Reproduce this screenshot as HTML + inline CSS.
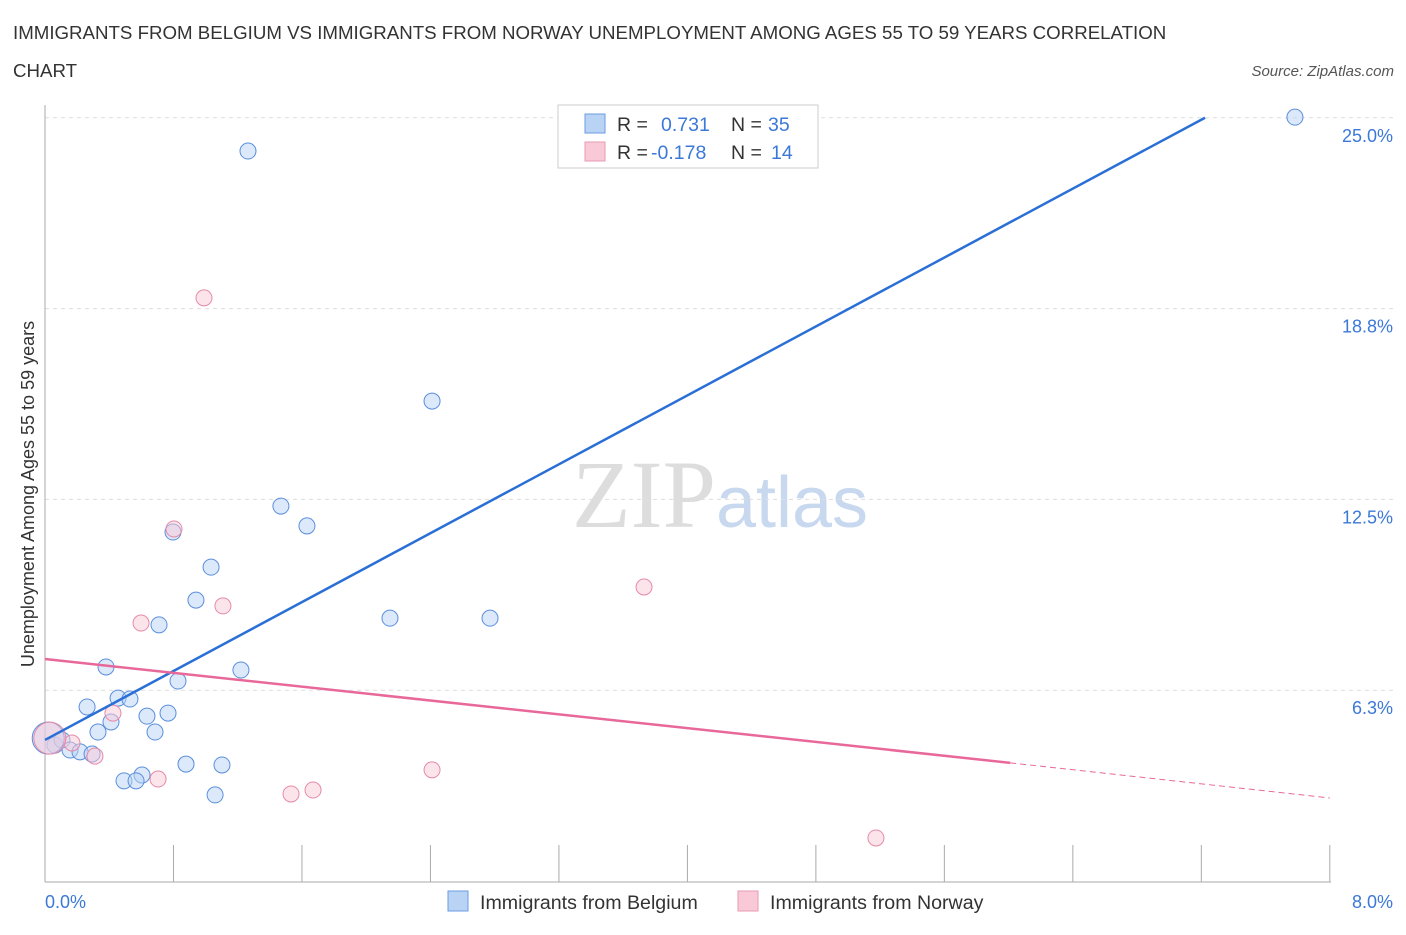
<!DOCTYPE html>
<html><head><meta charset="utf-8"><style>
body{margin:0;background:#fff;font-family:"Liberation Sans",sans-serif;}
</style></head><body>
<svg id="chart" width="1406" height="930" xmlns="http://www.w3.org/2000/svg" font-family="Liberation Sans, sans-serif">
<text x="13" y="39" font-size="18.7" fill="#333">IMMIGRANTS FROM BELGIUM VS IMMIGRANTS FROM NORWAY UNEMPLOYMENT AMONG AGES 55 TO 59 YEARS CORRELATION</text>
<text x="13" y="77" font-size="18.7" fill="#333">CHART</text>
<text x="1394" y="76" font-size="15" fill="#555" font-style="italic" text-anchor="end">Source: ZipAtlas.com</text>
<text x="720" y="527" font-size="96" text-anchor="middle" fill="#ddd" font-family="Liberation Serif, serif">ZIP<tspan fill="#c8d8ee" font-family="Liberation Sans, sans-serif" font-size="72">atlas</tspan></text>
<g id="grid"></g>
<g id="axes"></g>
<g id="marks"></g>
<text transform="translate(34,494) rotate(-90)" font-size="18" fill="#333" text-anchor="middle">Unemployment Among Ages 55 to 59 years</text>
<text x="45" y="908" font-size="18" fill="#3b78d8">0.0%</text>
<text x="1393" y="908" font-size="18" fill="#3b78d8" text-anchor="end">8.0%</text>
<g font-size="19.5">
<rect x="558" y="105" width="260" height="63" fill="#fff" stroke="#ccc"/>
<rect x="585" y="114" width="20" height="19" fill="#b9d3f5" stroke="#6a9be0"/>
<rect x="585" y="142" width="20" height="19" fill="#f9c9d8" stroke="#e89ab2"/>
<text x="617" y="131" fill="#333">R =</text>
<text x="661" y="131" fill="#3b78d8">0.731</text>
<text x="731" y="131" fill="#333">N =</text>
<text x="768" y="131" fill="#3b78d8">35</text>
<text x="617" y="159" fill="#333">R =</text>
<text x="651" y="159" fill="#3b78d8">-0.178</text>
<text x="731" y="159" fill="#333">N =</text>
<text x="771" y="159" fill="#3b78d8">14</text>
</g>
<g>
<rect x="448" y="891" width="20" height="20" fill="#b9d3f5" stroke="#6a9be0"/>
<text x="480" y="909" font-size="19.6" fill="#333">Immigrants from Belgium</text>
<rect x="738" y="891" width="20" height="20" fill="#f9c9d8" stroke="#e89ab2"/>
<text x="770" y="909" font-size="19.6" fill="#333">Immigrants from Norway</text>
</g>
</svg>
<script>
const yTicks=[6.25,12.5,18.75,25];
const yTickLabels=["6.3%","12.5%","18.8%","25.0%"];
const belgiumX=[1.264,7.783,2.410,1.469,1.631,0.797,1.034,0.940,0.710,2.148,2.771,0.380,1.220,0.828,0.455,0.529,0.262,0.766,0.635,0.411,0.685,0.330,0.062,0.106,0.156,0.218,0.293,0.878,1.102,0.604,0.492,0.567,1.059,0.02];
const belgiumY=[23.91,25.02,15.72,12.28,11.63,11.43,10.28,9.20,8.39,8.61,8.61,7.01,6.91,6.55,5.99,5.96,5.70,5.50,5.40,5.21,4.88,4.88,4.45,4.62,4.29,4.23,4.16,3.83,3.80,3.47,3.28,3.28,2.82,4.68];
const norwayX=[0.990,0.803,1.108,0.598,3.730,0.423,0.168,0.311,0.704,2.410,1.532,1.669,5.174,0.03];
const norwayY=[19.10,11.53,9.01,8.45,9.63,5.50,4.52,4.09,3.34,3.64,2.85,2.98,1.41,4.68];
const belgiumTrend=[[0,4.62],[7.223,25.0]];
const norwayTrend=[[0,7.27],[6.01,3.87],[8,2.72]];
const NS="http://www.w3.org/2000/svg";
const sx=v=>45+v*160.6, sy=v=>881-v*30.53;
function mk(tag,attrs,parent){const e=document.createElementNS(NS,tag);for(const k in attrs)e.setAttribute(k,attrs[k]);document.getElementById(parent).appendChild(e);return e;}
yTicks.forEach((t,i)=>{
 const g=mk('line',{x1:45,x2:1393,y1:sy(t),y2:sy(t),stroke:'#ddd','stroke-dasharray':'4,4'},'grid');
 
 
 const l=mk('text',{x:1393,y:sy(t)+24,'font-size':18,fill:'#3b78d8','text-anchor':'end'},'grid');
 l.textContent=yTickLabels[i];
 
 
});
const ax=mk('line',{x1:45,x2:45,y1:105,y2:882,stroke:'#aaa'},'axes');


const bx=mk('line',{x1:45,x2:1331,y1:882,y2:882,stroke:'#aaa'},'axes');


for(let i=0;i<=10;i++){
 const t=mk('line',{x1:sx(i*0.8),x2:sx(i*0.8),y1:845,y2:882,stroke:'#aaa'},'axes');
 
 
}
function dots(xs,ys,fill,stroke,name){
 xs.forEach((x,i)=>{
  const big=i===xs.length-1;
  const c=mk('circle',{cx:sx(x),cy:sy(ys[i]),r:big?16:8,fill:fill,'fill-opacity':0.5,stroke:stroke,'stroke-width':1},'marks');
  
  
 });
}
dots(belgiumX,belgiumY,'#b9d3f5','#5b8fdc','belgium-point');
dots(norwayX,norwayY,'#f9c9d8','#e58aa8','norway-point');
const bl=mk('line',{x1:sx(belgiumTrend[0][0]),y1:sy(belgiumTrend[0][1]),x2:sx(belgiumTrend[1][0]),y2:sy(belgiumTrend[1][1]),stroke:'#2a6fd6','stroke-width':2.5},'marks');


const nl=mk('line',{x1:sx(norwayTrend[0][0]),y1:sy(norwayTrend[0][1]),x2:sx(norwayTrend[1][0]),y2:sy(norwayTrend[1][1]),stroke:'#e8689a','stroke-width':2.5},'marks');


const nd=mk('line',{x1:sx(norwayTrend[1][0]),y1:sy(norwayTrend[1][1]),x2:sx(norwayTrend[2][0]),y2:sy(norwayTrend[2][1]),stroke:'#e8689a','stroke-width':1,'stroke-dasharray':'6,4'},'marks');


</script>
</body></html>
